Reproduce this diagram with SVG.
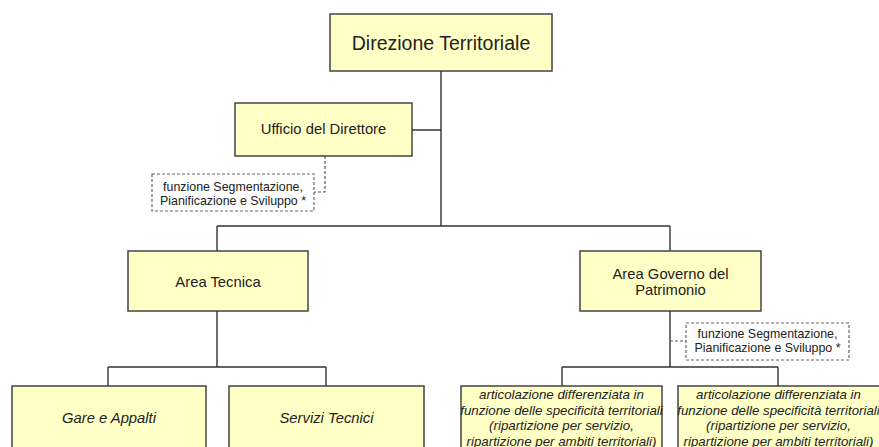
<svg xmlns="http://www.w3.org/2000/svg" width="879" height="447" viewBox="0 0 879 447">
<style>
.box{fill:#ffffc6;stroke:#444;stroke-width:1.5}
.note{fill:#fff;stroke:#666;stroke-width:1.2;stroke-dasharray:3,2}
.ln{fill:none;stroke:#333;stroke-width:1.4}
.dl{fill:none;stroke:#555;stroke-width:1.2;stroke-dasharray:3,2}
text{font-family:"Liberation Sans",Arial,sans-serif;fill:#222;text-anchor:middle}
.t15{font-size:14.8px}
.t12{font-size:12.4px}
.it{font-style:italic}
</style>
<rect width="879" height="447" fill="#fff"/>
<g id="connectors">
<path class="ln" d="M441 71V226M412 130H441M217 226H670M217 226V251M670 226V251"/>
<path class="ln" d="M217 311V367M108 367H326M108 367V386M326 367V386"/>
<path class="ln" d="M670 311V367M562 367H778M562 367V386M778 367V386"/>
<path class="dl" d="M325 156V192H314M670 341H686"/>
</g>
<g id="direzione">
<rect class="box" x="330" y="14" width="222" height="57"/>
<text x="441" y="50" style="font-size:19.5px">Direzione Territoriale</text>
</g>
<g id="ufficio">
<rect class="box" x="235" y="103" width="177" height="53"/>
<text class="t15" x="323.5" y="134">Ufficio del Direttore</text>
</g>
<g id="nota1">
<rect class="note" x="152" y="174" width="162" height="37"/>
<text class="t12" x="233" y="191">funzione Segmentazione,</text>
<text class="t12" x="233" y="205">Pianificazione e Sviluppo *</text>
</g>
<g id="area-tecnica">
<rect class="box" x="128" y="251" width="180" height="60"/>
<text class="t15" x="218" y="286.5">Area Tecnica</text>
</g>
<g id="area-governo">
<rect class="box" x="580" y="251" width="181" height="60"/>
<text class="t15" x="670.5" y="278.5">Area Governo del</text>
<text class="t15" x="670.5" y="295">Patrimonio</text>
</g>
<g id="nota2">
<rect class="note" x="686" y="323" width="163" height="37"/>
<text class="t12" x="767.5" y="338">funzione Segmentazione,</text>
<text class="t12" x="767.5" y="352">Pianificazione e Sviluppo *</text>
</g>
<g id="gare">
<rect class="box" x="12" y="386" width="194" height="80"/>
<text class="t15 it" x="109" y="423">Gare e Appalti</text>
</g>
<g id="servizi">
<rect class="box" x="229" y="386" width="195" height="80"/>
<text class="t15 it" x="326.5" y="423">Servizi Tecnici</text>
</g>
<g id="articolazione1">
<rect class="box" x="461" y="386" width="201" height="80"/>
<text class="it" style="font-size:13.3px" x="561.5" y="399">articolazione differenziata in</text>
<text class="it" style="font-size:13.3px" x="561.5" y="414.5">funzione delle specificità territoriali</text>
<text class="it" style="font-size:13.3px" x="561.5" y="430">(ripartizione per servizio,</text>
<text class="it" style="font-size:13.3px" x="561.5" y="445.5">ripartizione per ambiti territoriali)</text>
</g>
<g id="articolazione2">
<rect class="box" x="678" y="386" width="202" height="80"/>
<text class="it" style="font-size:13.3px" x="778.5" y="399">articolazione differenziata in</text>
<text class="it" style="font-size:13.3px" x="778.5" y="414.5">funzione delle specificità territoriali</text>
<text class="it" style="font-size:13.3px" x="778.5" y="430">(ripartizione per servizio,</text>
<text class="it" style="font-size:13.3px" x="778.5" y="445.5">ripartizione per ambiti territoriali)</text>
</g>
</svg>
